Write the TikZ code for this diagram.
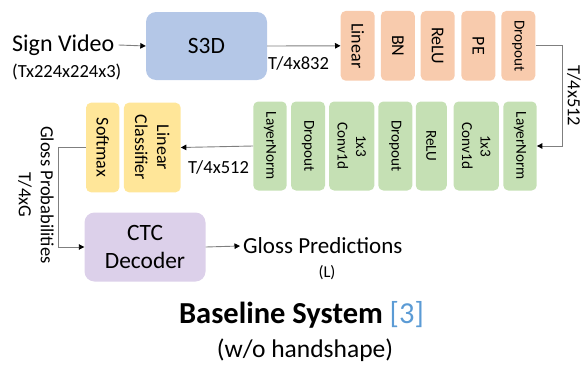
\documentclass[tikz,border=0pt]{standalone}
\usepackage{fontspec}
\setmainfont{Carlito}
\usetikzlibrary{arrows.meta}
\definecolor{cblue}{HTML}{B4C7E7}
\definecolor{corange}{HTML}{F8CBAD}
\definecolor{cgreen}{HTML}{C5E0B4}
\definecolor{cyellow}{HTML}{FFE699}
\definecolor{cpurple}{HTML}{DCD0EA}
\definecolor{cref}{HTML}{5B9BD5}
\definecolor{cline}{HTML}{7F7F7F}
\begin{document}
\begin{tikzpicture}[x=1pt,y=-1pt,
  bigbox/.style={rounded corners=10pt, inner sep=0pt, align=center, font=\fontsize{23.4}{28}\selectfont},
  vbox/.style={rounded corners=5pt, inner sep=0pt, align=center, rotate=-90},
  ofont/.style={font=\fontsize{18}{22}\selectfont},
  gfont/.style={font=\fontsize{15.2}{18.5}\selectfont},
  mid/.style={inner sep=0pt, align=center, font=\fontsize{18.5}{22}\selectfont},
  arr/.style={draw=cline, line width=0.9pt, -{Triangle[length=5.5pt,width=5.5pt,color=black]}}
]
\useasboundingbox (0,0) rectangle (581,367);

% inputs
\node[inner sep=0pt, anchor=west, font=\fontsize{24}{28}\selectfont] (sv) at (12,45) {Sign Video};
\node[mid, anchor=west] (svdim) at (12,72) {(Tx224x224x3)};
\node[bigbox, fill=cblue, minimum width=121pt, minimum height=68pt] (s3d) at (206.5,46) {S3D};
\draw[arr] ([xshift=4pt]sv.east) -- (s3d.west);

% orange row
\node[vbox, ofont, fill=corange, minimum width=69.7pt, minimum height=34pt] (o1) at (357.7,45.8) {Linear};
\node[vbox, ofont, fill=corange, minimum width=69.7pt, minimum height=34pt] (o2) at (397.8,45.8) {BN};
\node[vbox, ofont, fill=corange, minimum width=69.7pt, minimum height=34pt] (o3) at (437.7,45.8) {ReLU};
\node[vbox, ofont, fill=corange, minimum width=69.7pt, minimum height=34pt] (o4) at (478.3,45.8) {PE};
\node[vbox, gfont, fill=corange, minimum width=69.7pt, minimum height=34pt] (o5) at (518.3,45.8) {Dropout};
\draw[arr] (s3d.east) -- (o1.south);
\node[mid, anchor=west] (l832) at (268,63) {T/4x832};

% green row
\node[vbox, gfont, fill=cgreen, minimum width=89pt, minimum height=33.4pt] (g1) at (270,146) {LayerNorm};
\node[vbox, gfont, fill=cgreen, minimum width=89pt, minimum height=34pt] (g2) at (308,146) {Dropout};
\node[vbox, gfont, fill=cgreen, minimum width=89pt, minimum height=45.3pt] (g3) at (351.7,146) {1x3\\Conv1d};
\node[vbox, gfont, fill=cgreen, minimum width=89pt, minimum height=34pt] (g4) at (395.3,146) {Dropout};
\node[vbox, gfont, fill=cgreen, minimum width=89pt, minimum height=31pt] (g5) at (431.3,146) {ReLU};
\node[vbox, gfont, fill=cgreen, minimum width=89pt, minimum height=45.3pt] (g6) at (476.3,146) {1x3\\Conv1d};
\node[vbox, gfont, fill=cgreen, minimum width=89pt, minimum height=33.4pt] (g7) at (520,146) {LayerNorm};
\draw[arr] (o5.north) -- ++(26.5,0) |- (g7.north);
\node[mid, rotate=-90] (l512a) at (574,96) {T/4x512};

% yellow
\node[vbox, ofont, fill=cyellow, minimum width=89.6pt, minimum height=33.3pt] (y1) at (102.7,147.5) {Softmax};
\node[vbox, ofont, fill=cyellow, minimum width=89.6pt, minimum height=56.7pt] (y2) at (152.3,147.5) {Linear\\Classifier};
\draw[arr] (g1.south) -- (y2.north);
\node[mid, anchor=west] (l512b) at (188,167) {T/4x512};

% CTC
\node[bigbox, fill=cpurple, minimum width=121pt, minimum height=69pt] (ctc) at (145,247) {CTC\\Decoder};
\draw[arr] (y1.south) -- ++(-27,0) |- (ctc.west);
\node[mid, rotate=-90] (gp) at (36,195) {Gloss Probabilities\\T/4xG};

\node[inner sep=0pt, anchor=west, font=\fontsize{23}{28}\selectfont] (gpred) at (243,246) {Gloss Predictions};
\draw[arr] (ctc.east) -- ([xshift=-3pt]gpred.west);
\node[inner sep=0pt, font=\fontsize{16.5}{19}\selectfont] (lL) at (327,273) {(L)};

% title
\node[inner sep=0pt, font=\fontsize{30.5}{34}\selectfont] (title) at (301.5,315) {\textbf{Baseline System} \textcolor{cref}{[3]}};
\node[inner sep=0pt, font=\fontsize{25.5}{30}\selectfont] (sub) at (305,350) {(w/o handshape)};
\end{tikzpicture}
\end{document}
